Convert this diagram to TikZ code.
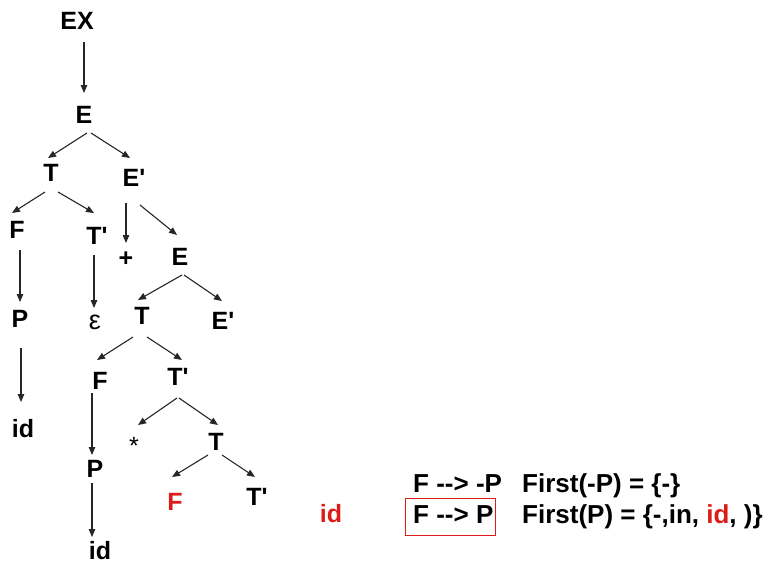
\documentclass[tikz,border=0pt]{standalone}
\usepackage{fontspec}
\setmainfont{Liberation Sans}[Ligatures=TeXOff]
\usetikzlibrary{arrows.meta}
\definecolor{rd}{RGB}{220,28,24}
\begin{document}
\begin{tikzpicture}[x=1pt,y=-1pt,
  lbl/.style={inner sep=0pt,font=\bfseries\fontsize{25}{30}\selectfont},
  txt/.style={inner sep=0pt,font=\bfseries\fontsize{26}{30}\selectfont,anchor=base west},
  arr/.style={draw=black!85,line width=1.1pt,-{Triangle[length=8pt,width=6.5pt]}}]
\useasboundingbox (0,0) rectangle (772,571);
% nodes
\node[lbl] (EX) at (77,21) {EX};
\node[lbl] (E1) at (84,115) {E};
\node[lbl] (T1) at (51,173) {T};
\node[lbl] (Ep1) at (134,178) {E'};
\node[lbl] (F1) at (17,230) {F};
\node[lbl] (Tp1) at (97,236) {T'};
\node[lbl] (plus) at (126,259) {+};
\node[lbl] (E2) at (180,257) {E};
\node[lbl] (P1) at (20,319) {P};
\node[lbl,font=\mdseries\fontsize{27}{30}\selectfont] (eps) at (95,322) {ε};
\node[lbl] (T2) at (142,316) {T};
\node[lbl] (Ep2) at (223,321) {E'};
\node[lbl] (id1) at (23,429) {id};
\node[lbl] (F2) at (100,381) {F};
\node[lbl] (Tp2) at (178,377) {T'};
\node[lbl] (P2) at (95,469) {P};
\node[lbl] (id2) at (100,551) {id};
\node[lbl,anchor=north,font=\mdseries\fontsize{25}{30}\selectfont] (star) at (134,437) {*};
\node[lbl] (T3) at (216,442) {T};
\node[lbl,text=rd] (F3) at (175,502) {F};
\node[lbl] (Tp3) at (257,497) {T'};
\node[lbl,text=rd] (idr) at (331,514) {id};
% right text
\node[txt] (r1a) at (413,492) {F --> -P};
\node[txt] (r1b) at (522,492) {First(-P) = \{-\}};
\node[txt] (r2a) at (413,523) {F --> P};
\node[txt] (r2b) at (522,523) {First(P) = \{-,in, \textcolor{rd}{id}, )\}};
\draw[rd,line width=0.8pt] ([shift={(-8,-25)}]r2a.base west) rectangle ([shift={(2,12)}]r2a.base east);
% connectors
\draw[arr] ([shift={(7,21)}]EX.center) -- ([shift={(0,-22)}]E1.center);
\draw[arr] ([shift={(3,18)}]E1.center) -- ([shift={(-3,-15)}]T1.center);
\draw[arr] ([shift={(7,18)}]E1.center) -- ([shift={(-4,-20)}]Ep1.center);
\draw[arr] ([shift={(-6,19)}]T1.center) -- ([shift={(-5,-17)}]F1.center);
\draw[arr] ([shift={(7,19)}]T1.center) -- ([shift={(-3,-23)}]Tp1.center);
\draw[arr] ([shift={(-8,25)}]Ep1.center) -- ([shift={(0,-16)}]plus.center);
\draw[arr] ([shift={(6,27)}]Ep1.center) -- ([shift={(-3,-22)}]E2.center);
\draw[arr] ([shift={(3,20)}]F1.center) -- ([shift={(0,-17)}]P1.center);
\draw[arr] ([shift={(-3,19)}]Tp1.center) -- ([shift={(-1,-14)}]eps.center);
\draw[arr] ([shift={(2,18)}]E2.center) -- ([shift={(-4,-16)}]T2.center);
\draw[arr] ([shift={(4,18)}]E2.center) -- ([shift={(-1,-20)}]Ep2.center);
\draw[arr] ([shift={(1,29)}]P1.center) -- ([shift={(-2,-27)}]id1.center);
\draw[arr] ([shift={(-9,21)}]T2.center) -- ([shift={(-3,-21)}]F2.center);
\draw[arr] ([shift={(5,21)}]T2.center) -- ([shift={(4,-17)}]Tp2.center);
\draw[arr] ([shift={(-8,12)}]F2.center) -- ([shift={(-3,-14)}]P2.center);
\draw[arr] ([shift={(-3,14)}]P2.center) -- ([shift={(-8,-14)}]id2.center);
\draw[arr] ([shift={(-1,21)}]Tp2.center) -- ([shift={(4,-12)}]star.north);
\draw[arr] ([shift={(1,21)}]Tp2.center) -- ([shift={(2,-17)}]T3.center);
\draw[arr] ([shift={(-8,13)}]T3.center) -- ([shift={(-3,-25)}]F3.center);
\draw[arr] ([shift={(6,13)}]T3.center) -- ([shift={(-2,-20)}]Tp3.center);
\end{tikzpicture}
\end{document}
